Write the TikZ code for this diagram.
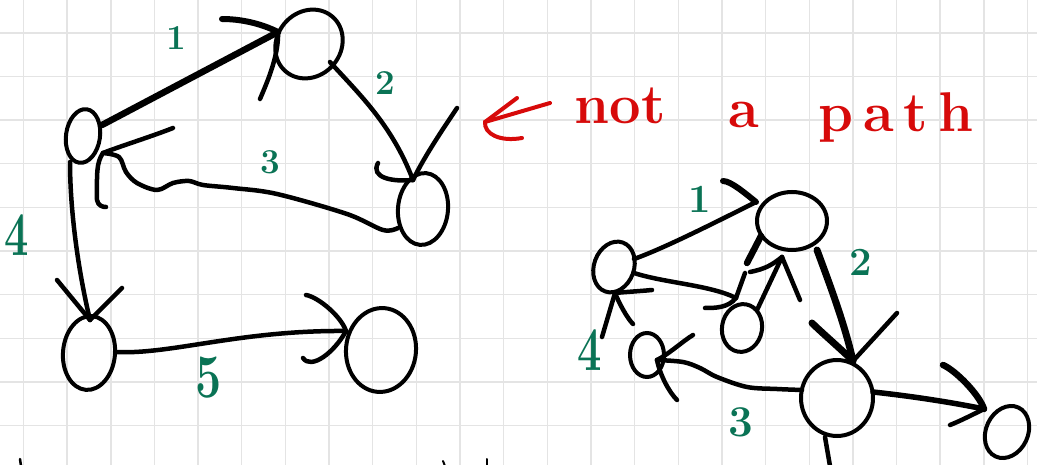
\documentclass[tikz,border=0pt]{standalone}
\usepackage{fontspec}
\usetikzlibrary{shapes.geometric}
\definecolor{gridgray}{RGB}{228,228,228}
\definecolor{labgreen}{RGB}{10,115,85}
\definecolor{inkred}{RGB}{215,10,10}
\tikzset{
  gridline/.style={draw=gridgray, line width=1.4pt},
  vert/.style={draw=black, ellipse, line width=4pt, inner sep=0pt, outer sep=0pt},
  ink/.style={draw=black, line width=4.5pt, line cap=round, line join=round},
  heavy/.style={ink, line width=6.5pt},
  redink/.style={draw=inkred, line width=4pt, line cap=round, line join=round},
  lbl/.style={text=labgreen, inner sep=0pt},
  redtxt/.style={text=inkred, inner sep=0pt, anchor=base, font=\fontsize{56}{56}\selectfont\bfseries},
}
\begin{document}
\begin{tikzpicture}[x=1pt,y=-1pt]
\useasboundingbox (0,0) rectangle (1037,465);
\fill[white] (0,0) rectangle (1037,465);
% grid
\foreach \i in {0,...,23} \draw[gridline] ({23.5+43.65*\i},0) -- ({23.5+43.65*\i},465);
\foreach \j in {0,...,9} \draw[gridline] (0,{33+43.6*\j}) -- (1037,{33+43.6*\j});

% ---------------- left graph ----------------
\node[vert, minimum width=34pt, minimum height=54pt, rotate=-8] (A) at (83,136) {};
\node[vert, minimum width=72pt, minimum height=64pt, rotate=50] (B) at (309,44) {};
\node[vert, minimum width=50pt, minimum height=72pt, rotate=-5] (C) at (423,209) {};
\node[vert, minimum width=52pt, minimum height=74pt, rotate=-5] (D) at (89,353) {};
\node[vert, minimum width=70pt, minimum height=84pt, rotate=-5] (E) at (381,350) {};

\coordinate (a1) at ([shift={(19,-11)}]A.center);
\coordinate (b1) at ([shift={(-31,-12)}]B.center);
\coordinate (b2) at ([shift={(21,18)}]B.center);
\coordinate (c2) at ([shift={(-10,-29)}]C.center);
\coordinate (c3) at ([shift={(-25,19)}]C.center);
\coordinate (a3) at ([shift={(20,17)}]A.center);
\coordinate (a4) at ([shift={(-13,26)}]A.center);
\coordinate (d4) at ([shift={(1,-33)}]D.center);
\coordinate (d5) at ([shift={(26,-1)}]D.center);
\coordinate (e5) at ([shift={(-35,-19)}]E.center);

% edge 1
\draw[heavy] (a1) -- (b1);
\draw[heavy, line width=6pt] (b1) .. controls +(-18,-9) and +(18,0) .. ++(-56,-13);
\draw[ink] (b1) .. controls +(1,25) and +(5,-12) .. ++(-18,67);
% edge 2
\draw[ink] (b2) .. controls (360,95) and (392,125) .. (c2);
\draw[ink] (c2) .. controls +(12,-25) and +(-10,15) .. ++(44,-72);
\draw[ink] (c2) .. controls +(-20,2) and +(-8,15) .. ++(-35,-17);
% edge 3
\draw[ink] plot[smooth, tension=0.55] coordinates {(c3) (383,230) (347,214) (277,194) (233,188) (203,185) (189,181) (173,183) (157,190) (137,183) (126,172) (119,157) (a3)};
\draw[ink] (a3) .. controls +(15,-6) and +(-20,8) .. ++(70,-25);
\draw[ink] (a3) .. controls +(-7,10) and +(0,-25) .. ++(-6,47) .. controls +(1,6) and +(-3,0) .. ++(9,7);
% edge 4
\draw[ink] (a4) .. controls (70,210) and (78,270) .. (d4);
\draw[ink] (d4) -- ++(-33,-40);
\draw[ink] (d4) -- ++(32,-32);
% edge 5
\draw[ink] (d5) .. controls (170,355) and (240,330) .. (e5);
\draw[ink] (e5) .. controls +(-5,-15) and +(12,2) .. ++(-40,-36);
\draw[ink] (e5) .. controls +(-12,22) and +(8,12) .. ++(-43,27);

\node[lbl, font=\fontsize{35}{35}\selectfont\bfseries] (l1) at (176,38) {1};
\node[lbl, font=\fontsize{35}{35}\selectfont\bfseries] (l2) at (385,83) {2};
\node[lbl, font=\fontsize{35}{35}\selectfont\bfseries] (l3) at (270,162) {3};
\node[lbl, font=\fontsize{62}{62}\selectfont\bfseries] (l4) at (17,235) {\scalebox{0.7}[1]{4}};
\node[lbl, font=\fontsize{62}{62}\selectfont\bfseries] (l5) at (209,378) {\scalebox{0.75}[1]{5}};

% ---------------- red note ----------------
\coordinate (rt) at (485,122);
\draw[redink] (550,103) -- (rt);
\draw[redink] (rt) -- (517,98);
\draw[redink] (rt) .. controls (484,134) and (500,142) .. (522,138);
\node[redtxt] (not) at (620,124) {not};
\node[redtxt] (aa) at (744,128) {a};
\node[redtxt, anchor=base west] (path) at (818,132) {p\kern10pt a\kern10pt t\kern10pt h};

% ---------------- right graph ----------------
\node[vert, minimum width=40pt, minimum height=52pt, rotate=-20] (P) at (614,267) {};
\node[vert, minimum width=70pt, minimum height=58pt] (Q) at (792,221) {};
\node[vert, minimum width=40pt, minimum height=48pt, rotate=-10] (R) at (742,328) {};
\node[vert, minimum width=34pt, minimum height=44pt] (S) at (647,355) {};
\node[vert, minimum width=72pt, minimum height=76pt] (T) at (837,398) {};
\node[vert, minimum width=42pt, minimum height=54pt, rotate=-25] (U) at (1007,432) {};

\coordinate (p1) at ([shift={(20,-8)}]P.center);
\coordinate (q1) at ([shift={(-36,-19)}]Q.center);
\coordinate (p2) at ([shift={(20,6)}]P.center);
\coordinate (r2) at ([shift={(-6,-30)}]R.center);
\coordinate (r3) at ([shift={(15,-18)}]R.center);
\coordinate (q3) at ([shift={(-10,36)}]Q.center);
\coordinate (q4) at ([shift={(25,29)}]Q.center);
\coordinate (t4) at ([shift={(16,-37)}]T.center);
\coordinate (t5) at ([shift={(-35,-8)}]T.center);
\coordinate (s5) at ([shift={(10,5)}]S.center);
\coordinate (pb) at ([shift={(1,26)}]P.center);
\coordinate (f4) at (602,337);
\coordinate (t6) at ([shift={(36,-6)}]T.center);
\coordinate (u6) at ([shift={(-23,-23)}]U.center);
\coordinate (tb) at ([shift={(-12,39)}]T.center);
\coordinate (tend) at (830,466);

% edge 1
\draw[ink] (p1) .. controls (665,248) and (720,220) .. (q1);
\draw[ink, line width=6pt] (q1) .. controls +(-10,-8) and +(8,0) .. ++(-33,-21);
% P -> R
\draw[ink] (p2) .. controls (665,283) and (710,285) .. (r2);
\draw[ink] (r2) .. controls +(-8,10) and +(10,0) .. ++(-31,10);
\draw[ink] (r2) -- ++(9,-25);
% R -> Q
\draw[ink] (r3) -- (q3);
\draw[ink] (q3) .. controls +(-10,8) and +(15,-3) .. ++(-32,15);
\draw[ink] (q3) -- ++(18,43);
\draw[heavy] ([shift={(-45,42)}]Q.center) -- ([shift={(-31,15)}]Q.center);
% edge 2
\draw[ink, line width=7pt] (q4) .. controls (830,285) and (845,325) .. (t4);
\draw[ink, line width=7pt] (t4) .. controls +(-10,-10) and +(8,8) .. ++(-41,-38);
\draw[ink] (t4) -- ++(44,-48);
% edge 3
\draw[ink] plot[smooth, tension=0.55] coordinates {(t5) (777,389) (747,387) (717,377) (700,368) (683,362) (s5)};
\draw[ink] (s5) .. controls +(12,-6) and +(-10,6) .. ++(36,-25);
\draw[ink] (s5) .. controls +(3,15) and +(-8,-8) .. ++(20,40);
% edge 4
\draw[ink] (f4) -- (pb);
\draw[ink] (pb) .. controls +(4,10) and +(-6,-6) .. ++(18,31);
\draw[ink] (pb) .. controls +(10,-1) and +(-10,1) .. ++(37,-3);
% T -> U
\draw[ink, line width=5.5pt] (t6) .. controls (910,396) and (950,402) .. (u6);
\draw[ink, line width=6.5pt] (u6) .. controls +(-5,-15) and +(12,5) .. ++(-41,-44);
\draw[ink] (u6) .. controls +(-10,5) and +(8,-3) .. ++(-34,16);
% T bottom
\draw[ink] (tb) -- (tend);

\node[lbl, font=\fontsize{40}{40}\selectfont\bfseries] (r1) at (700,199) {1};
\node[lbl, font=\fontsize{40}{40}\selectfont\bfseries] (r2l) at (861,262) {2};
\node[lbl, font=\fontsize{62}{62}\selectfont\bfseries] (r4) at (590,350) {\scalebox{0.7}[1]{4}};
\node[lbl, font=\fontsize{44}{44}\selectfont\bfseries] (r3l) at (741,422) {3};

% bottom edge marks
\draw[ink, line width=2.5pt] (20,459) -- (21,466);
\draw[ink, line width=2pt] (443,461) -- (445,466);
\draw[ink, line width=2pt] (487,459) -- (487,466);
\end{tikzpicture}
\end{document}
